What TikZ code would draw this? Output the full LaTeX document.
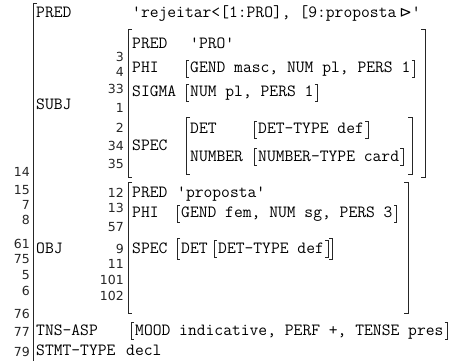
\documentclass[tikz,border=0pt]{standalone}
\usepackage{fontspec}
\newfontfamily\fsnum{DejaVu Sans}
\usetikzlibrary{calc}

% square brackets round one value node
\newcommand\sqbr[2][0pt]{%
  \draw[brk] ([xshift=-1pt,yshift=#1]#2.north west) -- ([xshift=-4pt,yshift=#1]#2.north west)
    -- ([xshift=-4pt,yshift=-#1]#2.south west) -- ([xshift=-1pt,yshift=-#1]#2.south west);
  \draw[brk] ([xshift=1pt,yshift=#1]#2.north east) -- ([xshift=4pt,yshift=#1]#2.north east)
    -- ([xshift=4pt,yshift=-#1]#2.south east) -- ([xshift=1pt,yshift=-#1]#2.south east);}

\begin{document}
\frenchspacing
\begin{tikzpicture}[x=1pt,y=-1pt,
  attr/.style={font=\ttfamily\fontsize{17.1}{17}\selectfont,anchor=base west,inner sep=0pt,
    text height=12pt,text depth=4pt},
  idx/.style={font=\fsnum\fontsize{12.5}{13}\selectfont,anchor=base east,inner sep=0pt,black!85},
  brk/.style={line width=1pt,black!85}]
\useasboundingbox (0,0) rectangle (456,361);

% outer f-structure
\draw[brk] (37,4) -- (33,4) -- (33,361);
\node[attr] (fpred) at (36,18) {PRED};
\node[attr] (fpredv) at (132,18) {'rejeitar<[1:PRO], [9:proposta\hspace{3pt}{\fsnum\fontsize{15}{15}\selectfont ⊳}'};
\node[attr] (fsubj) at (36,110) {SUBJ};
\node[attr] (fobj) at (36,253) {OBJ};
\node[attr] (ftns) at (36,335) {TNS-ASP};
\node[attr] (ftnsv) at (135,335) {MOOD indicative, PERF +, TENSE pres};
\node[attr] (fstmt) at (36,355) {STMT-TYPE};
\node[attr] (fstmtv) at (126,355) {decl};
\sqbr{ftnsv}

\node[idx] (n14) at (30,177) {14};
\node[idx] (n15) at (30,194) {15};
\node[idx] (n7) at (30,209) {7};
\node[idx] (n8) at (30,225) {8};
\node[idx] (n61) at (30,248) {61};
\node[idx] (n75) at (30,263) {75};
\node[idx] (n5) at (30,279) {5};
\node[idx] (n6) at (30,295) {6};
\node[idx] (n76) at (30,318) {76};
\node[idx] (n77) at (30,336) {77};
\node[idx] (n79) at (30,356) {79};

% SUBJ
\draw[brk] (132,30) -- (128,30) -- (128,178) -- (132,178);
\draw[brk] (421,30) -- (425,30) -- (425,178) -- (421,178);
\node[attr] (spred) at (132,49) {PRED};
\node[attr] (spredv) at (190,49) {'PRO'};
\node[attr] (sphi) at (132,73) {PHI};
\node[attr] (sphiv) at (190,73) {GEND masc, NUM pl, PERS 1};
\node[attr] (ssig) at (132,97) {SIGMA};
\node[attr] (ssigv) at (190,97) {NUM pl, PERS 1};
\node[attr] (sspec) at (132,150) {SPEC};
\node[attr] (sdet) at (190,134) {DET};
\node[attr] (sdetv) at (258,134) {DET-TYPE def};
\node[attr] (snum) at (190,161) {NUMBER};
\node[attr] (snumv) at (258,161) {NUMBER-TYPE card};
\sqbr{sphiv}
\sqbr{ssigv}
\sqbr{sdetv}
\sqbr{snumv}
\draw[brk] (190,118) -- (186,118) -- (186,175) -- (190,175);
\draw[brk] (408,118) -- (412,118) -- (412,175) -- (408,175);

\node[idx] (n3) at (124,62) {3};
\node[idx] (n4) at (124,77) {4};
\node[idx] (n33) at (124,94) {33};
\node[idx] (n1) at (124,113) {1};
\node[idx] (n2) at (124,132) {2};
\node[idx] (n34) at (124,150) {34};
\node[idx] (n35) at (124,168) {35};

% OBJ
\draw[brk] (132,183) -- (128,183) -- (128,313) -- (132,313);
\draw[brk] (404,183) -- (408,183) -- (408,313) -- (404,313);
\node[attr] (opred) at (132,197) {PRED};
\node[attr] (opredv) at (177,197) {'proposta'};
\node[attr] (ophi) at (132,218) {PHI};
\node[attr] (ophiv) at (181,218) {GEND fem, NUM sg, PERS 3};
\node[attr] (ospec) at (132,253) {SPEC};
\node[attr] (odet) at (181,253) {DET};
\node[attr] (odetv) at (218,253) {DET-TYPE def};
\sqbr{ophiv}
\sqbr{odetv}
\draw[brk] ([xshift=-1pt,yshift=2pt]odet.north west) -- ([xshift=-4pt,yshift=2pt]odet.north west)
  -- ([xshift=-4pt,yshift=-2pt]odet.south west) -- ([xshift=-1pt,yshift=-2pt]odet.south west);
\draw[brk] ([xshift=5pt,yshift=2pt]odetv.north east) -- ([xshift=8pt,yshift=2pt]odetv.north east)
  -- ([xshift=8pt,yshift=-2pt]odetv.south east) -- ([xshift=5pt,yshift=-2pt]odetv.south east);

\node[idx] (n12) at (124,197) {12};
\node[idx] (n13) at (124,212) {13};
\node[idx] (n57) at (124,231) {57};
\node[idx] (n9) at (124,253) {9};
\node[idx] (n11) at (124,268) {11};
\node[idx] (n101) at (124,284) {101};
\node[idx] (n102) at (124,300) {102};
\end{tikzpicture}
\end{document}
